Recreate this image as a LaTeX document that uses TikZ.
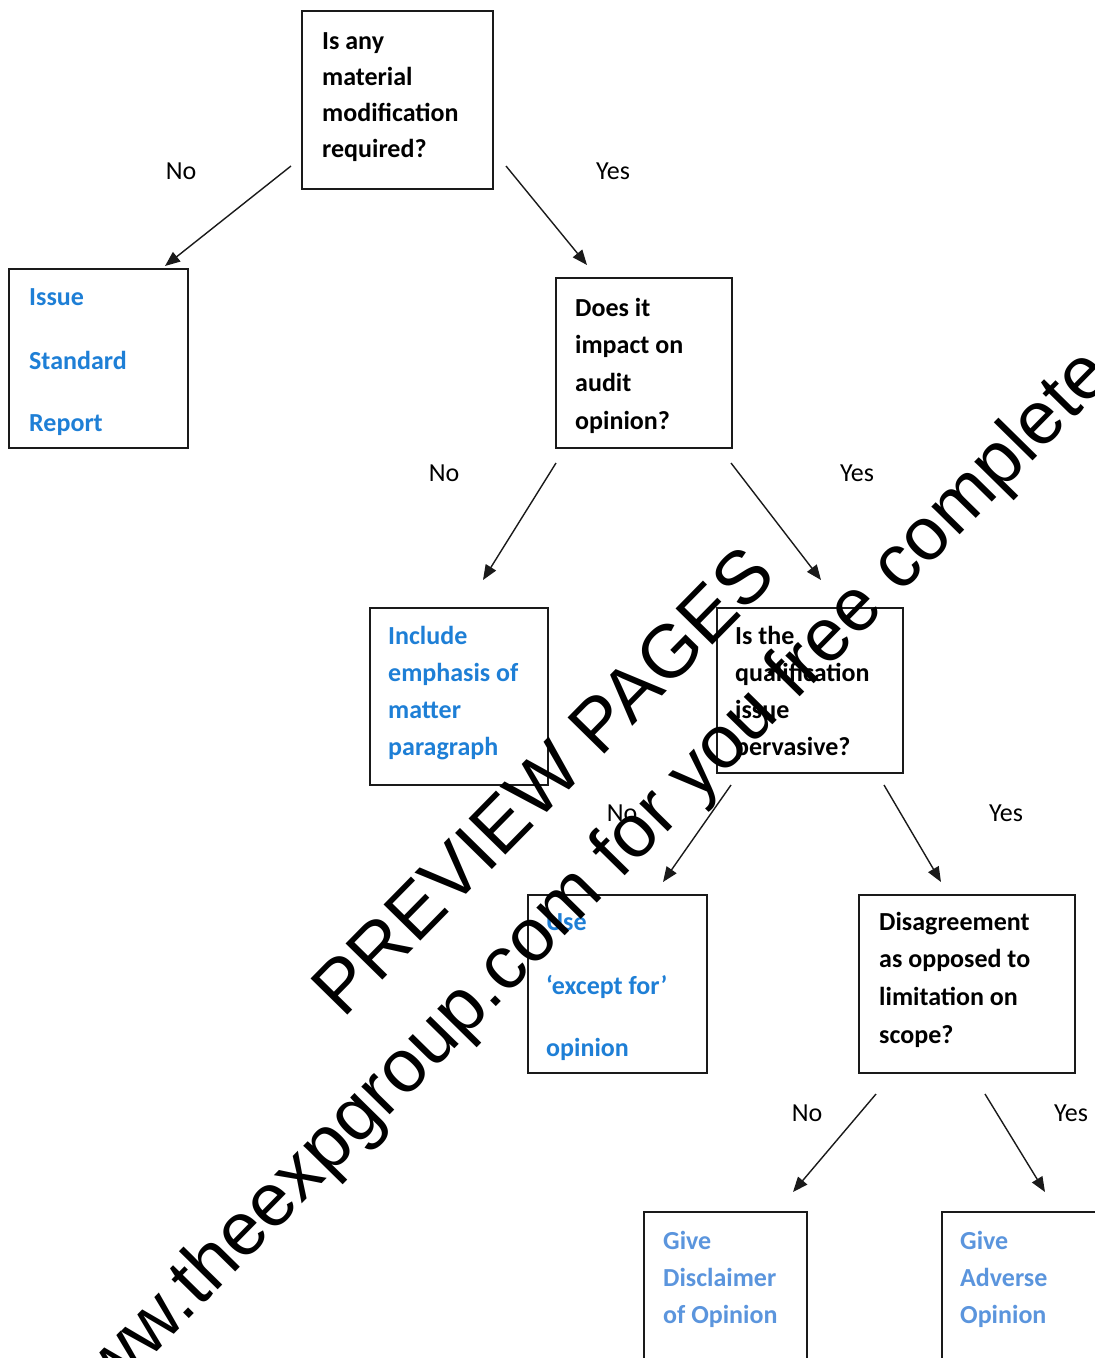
\documentclass[tikz,border=0pt]{standalone}
\usepackage{fontspec}
\setmainfont{Carlito}
\newfontfamily\wmfont{Liberation Sans}
\usetikzlibrary{arrows.meta}
\definecolor{dblue}{HTML}{1E7FD6}
\definecolor{lblue}{HTML}{5B95DD}
\definecolor{edgec}{HTML}{1A1A1A}
\begin{document}
\begin{tikzpicture}[x=1pt,y=-1pt,
  boxst/.style={draw=edgec, line width=1.7pt, rectangle, inner sep=0pt, anchor=north west},
  qtxt/.style={font=\fontsize{26}{30}\bfseries\selectfont, text=black, anchor=base west, inner sep=0pt},
  atxt/.style={qtxt, text=dblue},
  ltxt/.style={qtxt, text=lblue},
  lab/.style={font=\fontsize{26}{30}\selectfont, text=black, anchor=base, inner sep=0pt},
  conn/.style={draw=edgec, line width=1.4pt, -{Triangle[length=15pt,width=12pt]}},
  wm/.style={font=\wmfont\fontsize{75}{80}\selectfont, rotate=45.5, anchor=base, inner sep=0pt}]
\useasboundingbox (0,0) rectangle (1095,1358);
\fill[white] (0,0) rectangle (1095,1358);

% boxes
\node[boxst, minimum width=191pt, minimum height=178pt] (q1) at (301,10) {};
\node[boxst, minimum width=179pt, minimum height=179pt] (r1) at (8,268) {};
\node[boxst, minimum width=176pt, minimum height=170pt] (q2) at (555,277) {};
\node[boxst, minimum width=178pt, minimum height=177pt] (r2) at (369,607) {};
\node[boxst, minimum width=186pt, minimum height=165pt] (q3) at (716,607) {};
\node[boxst, minimum width=179pt, minimum height=178pt] (r3) at (527,894) {};
\node[boxst, minimum width=216pt, minimum height=178pt] (q4) at (858,894) {};
\node[boxst, minimum width=163pt, minimum height=220pt] (r4) at (643,1211) {};
\node[boxst, minimum width=220pt, minimum height=220pt] (r5) at (941,1211) {};

% texts
\foreach \t [count=\i] in {Is any, material, modification, required?}
  \node[qtxt] (q1t\i) at (322,{49+36.3*(\i-1)}) {\t};
\foreach \t/\yy [count=\i] in {Issue/305, Standard/369, Report/431}
  \node[atxt] (r1t\i) at (29,\yy) {\t};
\foreach \t [count=\i] in {Does it, impact on, audit, opinion?}
  \node[qtxt] (q2t\i) at (575,{316+37.7*(\i-1)}) {\t};
\foreach \t [count=\i] in {Include, emphasis of, matter, paragraph}
  \node[atxt] (r2t\i) at (388,{644+37.3*(\i-1)}) {\t};
\foreach \t [count=\i] in {Is the, qualification, issue, pervasive?}
  \node[qtxt] (q3t\i) at (735,{644+37.3*(\i-1)}) {\t};
\foreach \t/\yy [count=\i] in {Use/930, ‘except for’/994, opinion/1056}
  \node[atxt] (r3t\i) at (546,\yy) {\t};
\foreach \t [count=\i] in {Disagreement, as opposed to, limitation on, scope?}
  \node[qtxt] (q4t\i) at (879,{930+37.7*(\i-1)}) {\t};
\foreach \t [count=\i] in {Give, Disclaimer, of Opinion}
  \node[ltxt] (r4t\i) at (663,{1249+37.3*(\i-1)}) {\t};
\foreach \t [count=\i] in {Give, Adverse, Opinion}
  \node[ltxt] (r5t\i) at (960,{1249+37.3*(\i-1)}) {\t};

% connectors
\coordinate (a1s) at (291,166); \coordinate (a1e) at (165,266);
\coordinate (a2s) at (506,166); \coordinate (a2e) at (587,265);
\coordinate (a3s) at (556,463); \coordinate (a3e) at (483,580);
\coordinate (a4s) at (731,463); \coordinate (a4e) at (821,580);
\coordinate (a5s) at (731,785); \coordinate (a5e) at (663,882);
\coordinate (a6s) at (884,785); \coordinate (a6e) at (941,882);
\coordinate (a7s) at (876,1094); \coordinate (a7e) at (793,1192);
\coordinate (a8s) at (985,1094); \coordinate (a8e) at (1045,1192);
\foreach \k in {1,...,8} \draw[conn] (a\k s) -- (a\k e);

% labels
\node[lab] (l1) at (181,179) {No};
\node[lab] (l2) at (613,179) {Yes};
\node[lab] (l3) at (444,481) {No};
\node[lab] (l4) at (857,481) {Yes};
\node[lab] (l5) at (622,821) {No};
\node[lab] (l6) at (1006,821) {Yes};
\node[lab] (l7) at (807,1121) {No};
\node[lab] (l8) at (1071,1121) {Yes};

% watermark
\node[wm] (wm1) at (561,799) {PREVIEW PAGES};
\node[wm] (wm2) at (594,907) {www.theexpgroup.com for you free complete};
\end{tikzpicture}
\end{document}
